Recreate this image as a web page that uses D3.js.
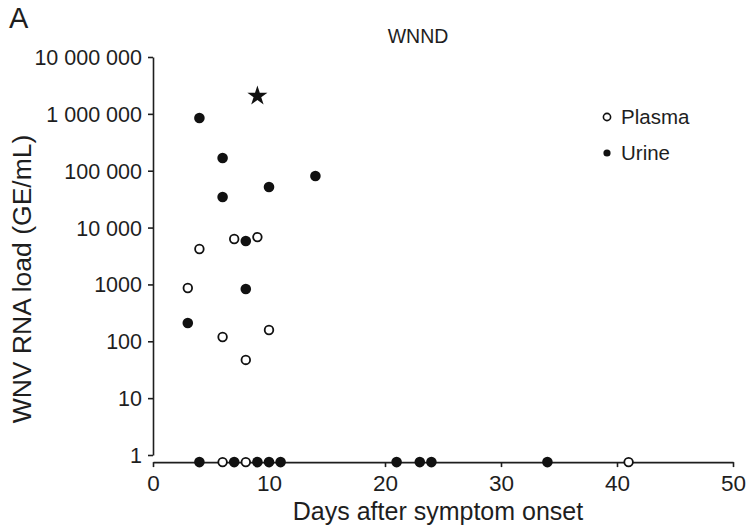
<!DOCTYPE html>
<html>
<head>
<meta charset="utf-8">
<script src="https://cdn.jsdelivr.net/npm/d3@7"></script>
<style>
  body { margin: 0; background: #fff; }
  svg { display: block; font-family: "Liberation Sans", Arial, sans-serif; }
  text { fill: #1e1e1e; }
  .axis path, .axis line { stroke: #1e1e1e; stroke-width: 1.6; }
  .axis text { font-size: 21.5px; fill: #1e1e1e; }
</style>
</head>
<body>
<div id="chart"></div>
<script>
// WNV RNA load vs days after symptom onset (panel A, WNND)

// plasma samples (null = not detected, plotted on the x axis)
const plasmaDays = [3, 4, 6, 7, 8, 9, 10, 6, 8, 41];
const plasmaLoad = [865, 4200, 119, 6300, 47, 6800, 158, null, null, null];

// urine samples
const urineDays = [3, 4, 6, 6, 8, 8, 10, 14, 4, 7, 9, 10, 11, 21, 23, 24, 34];
const urineLoad = [210, 845000, 167000, 34500, 830, 5800, 51700, 80700,
                   null, null, null, null, null, null, null, null, null];

// star marker
const starDay = [9];
const starLoad = [2060000];

const yTicks = [1, 10, 100, 1000, 10000, 100000, 1000000, 10000000];
const xTicks = [0, 10, 20, 30, 40, 50];
const ndLevel = 0.75; // where undetected samples sit (the x axis)

const width = 748,
    height = 531,
    margin = ({ top: 57, right: 15, bottom: 76, left: 153 });

const svg = d3.select("#chart")
  .append("svg")
  .attr("width", width)
  .attr("height", height)
  .attr("viewBox", [0, 0, width, height]);

let x = d3.scaleLinear()
  .domain([0, 50])
  .range([margin.left, 733]);

let y = d3.scaleLog()
  .domain([1, 10000000])
  .range([height - margin.bottom, margin.top]);

// space-grouped numbers, but 1000 stays as is
const spaced = d3.formatLocale({ decimal: ".", thousands: " ", grouping: [3], currency: ["", ""] }).format(",");
const fmtY = d => d >= 10000 ? spaced(d) : String(d);

// y axis
svg.append("g")
  .attr("class", "axis")
  .attr("transform", `translate(${margin.left},0)`)
  .call(d3.axisLeft(y).tickValues(yTicks).tickFormat(fmtY).tickSize(5).tickSizeOuter(0).tickPadding(6))
  .call(g => g.selectAll("text").attr("dy", "0.35em"));

// x axis, sits slightly below the "1" tick
const xAxisY = y(ndLevel);
svg.append("g")
  .attr("class", "axis")
  .attr("transform", `translate(0,${xAxisY})`)
  .call(d3.axisBottom(x).tickValues(xTicks).tickSize(5).tickSizeOuter(0).tickPadding(8))
  .call(g => g.selectAll("text").style("font-size", "22.5px"));

// axis titles
svg.append("text")
  .attr("text-anchor", "middle")
  .attr("x", 438)
  .attr("y", 520)
  .style("font-size", "25px")
  .text("Days after symptom onset");

svg.append("text")
  .attr("text-anchor", "middle")
  .attr("transform", `translate(31,${(y(1) + y(10000000)) / 2 + 23}) rotate(-90)`)
  .style("font-size", "26.5px")
  .text("WNV RNA load (GE/mL)");

// panel letter and title
svg.append("text")
  .attr("x", 9)
  .attr("y", 28)
  .style("font-size", "29px")
  .text("A");

svg.append("text")
  .attr("text-anchor", "middle")
  .attr("x", 418)
  .attr("y", 43)
  .style("font-size", "19.5px")
  .text("WNND");

const yPos = v => v == null ? y(ndLevel) : y(v);

// plasma: open circles
svg.append("g")
  .selectAll("circle")
  .data(plasmaDays.map((d, i) => ({ day: d, load: plasmaLoad[i] })))
  .join("circle")
  .attr("cx", d => x(d.day))
  .attr("cy", d => yPos(d.load))
  .attr("r", 4.3)
  .attr("fill", "#fff")
  .attr("stroke", "#111")
  .attr("stroke-width", 1.8);

// urine: filled circles
svg.append("g")
  .selectAll("circle")
  .data(urineDays.map((d, i) => ({ day: d, load: urineLoad[i] })))
  .join("circle")
  .attr("cx", d => x(d.day))
  .attr("cy", d => yPos(d.load))
  .attr("r", 5.3)
  .attr("fill", "#111");

// star
svg.append("g")
  .selectAll("path")
  .data(starDay.map((d, i) => ({ day: d, load: starLoad[i] })))
  .join("path")
  .attr("transform", d => `translate(${x(d.day)},${y(d.load)})`)
  .attr("d", d3.symbol(d3.symbolStar, 125))
  .attr("fill", "#111");

// legend
const legend = svg.append("g").attr("transform", "translate(607,117)");
const legendItems = ["Plasma", "Urine"];
legendItems.forEach((name, i) => {
  const row = legend.append("g").attr("transform", `translate(0,${i * 36})`);
  row.append("circle")
    .attr("r", 3.6)
    .attr("fill", i === 0 ? "#fff" : "#111")
    .attr("stroke", "#111")
    .attr("stroke-width", i === 0 ? 1.6 : 0);
  row.append("text")
    .attr("x", 14)
    .attr("dy", "0.36em")
    .style("font-size", "20.5px")
    .text(name);
});
</script>
</body>
</html>
